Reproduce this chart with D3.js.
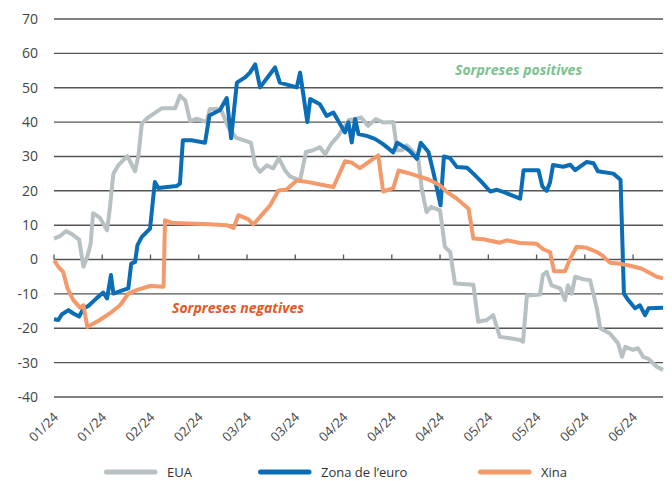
<!DOCTYPE html>
<html lang="ca">
<head>
  <meta charset="UTF-8">
  <title>Sorpreses econòmiques: EUA, Zona de l'euro i Xina</title>
  <script src="https://d3js.org/d3.v7.min.js"></script>
  <style>
    body {
      margin: 0;
      background: #ffffff;
      font-family: "Open Sans", "Noto Sans", sans-serif;
    }
    svg {
      display: block;
    }
  </style>
</head>
<body>
  <svg id="chart" width="672" height="481"></svg>
  <script>
    // x = business-day index since start of January (one tick every 10 days)
    const tickLabels = ["01/24", "01/24", "02/24", "02/24", "03/24", "03/24", "04/24",
                        "04/24", "04/24", "05/24", "05/24", "06/24", "06/24"];
    const yTicks = [-40, -30, -20, -10, 0, 10, 20, 30, 40, 50, 60, 70];

    const eua = [
      [0, 6.1], [1.2, 6.8], [2.5, 8.3], [3.7, 7.4], [5.2, 5.8], [6.1, -2.1], [6.9, 0.8],
      [7.6, 4.6], [8.1, 13.5], [9.5, 12.2], [11.0, 8.5], [11.6, 15.3], [12.3, 25],
      [13.3, 27.4], [15.2, 30.1], [16.8, 25.7], [17.5, 30.3], [18.2, 39.5], [19.2, 41],
      [20.6, 42.4], [22.3, 44], [25.1, 44], [26.1, 47.7], [27.2, 46.3], [28.2, 40.3],
      [29.6, 41], [31.6, 40], [32.3, 43.8], [33.8, 43.8], [34.8, 43], [36.1, 38.5],
      [37.7, 35.5], [40.0, 34.4], [40.8, 34], [41.7, 27.4], [42.7, 25.5], [44.1, 27.4],
      [45.4, 26.5], [46.6, 29.5], [47.9, 25.9], [48.9, 24.2], [51.0, 23], [52.2, 31.3],
      [53.7, 31.8], [55.1, 32.7], [56.2, 30.6], [57.4, 33.6], [58.9, 36], [60.1, 38.5],
      [61.1, 40.6], [62.6, 40.9], [63.6, 41.4], [65.1, 38.9], [66.7, 40.9], [68.2, 39.9],
      [70.3, 40], [71.1, 31.8], [72.1, 31.8], [73.1, 33.2], [74.5, 31.3], [75.5, 29.3],
      [76.2, 20.6], [77.2, 13.8], [78.1, 15.3], [80.0, 14.3], [81.0, 3.7], [82.1, 2.2],
      [83.1, -7], [86.9, -7.3], [87.9, -18.1], [89.7, -17.6], [91.0, -16.2], [92.4, -22.5],
      [94.5, -22.9], [96.6, -23.4], [97.2, -23.9], [98.0, -10.4], [99.0, -10.4],
      [100.7, -10.2], [101.3, -4.5], [102.1, -3.6], [103.1, -7.5], [104.9, -8.4],
      [105.9, -11.8], [106.5, -7.5], [107.3, -9.9], [108.0, -5], [109.6, -5.7],
      [111.1, -6], [112.5, -14.2], [113.2, -20], [115.2, -21.5], [116.9, -24.4],
      [117.7, -28.3], [118.4, -25.4], [120.0, -26.3], [121.0, -25.8], [122.1, -28.3],
      [123.1, -28.8], [124.9, -31.2], [126.2, -32.1]
    ];

    const zonaEuro = [
      [0, -17.4], [0.9, -17.6], [1.6, -16], [3.0, -14.7], [4.0, -15.7], [5.2, -16.6],
      [6.1, -14.2], [7.1, -13.5], [8.8, -11.3], [10.2, -9.6], [11.0, -11.3], [11.8, -4.5],
      [12.3, -9.9], [13.7, -9.2], [15.4, -8.4], [16.0, -1.2], [16.8, -0.7], [17.3, 4.2],
      [18.2, 6.6], [19.9, 9], [20.9, 22.6], [21.6, 20.8], [25.4, 21.4], [26.1, 22.1],
      [26.7, 34.7], [28.5, 34.7], [31.3, 34], [32.2, 41.9], [34.4, 43.5], [35.8, 47],
      [36.7, 35.3], [37.9, 51.5], [39.6, 53], [40.6, 54.4], [41.7, 56.8], [42.7, 50.1],
      [45.8, 55.9], [46.8, 51.5], [50.3, 50.1], [51.0, 54.4], [52.5, 40], [53.1, 46.7],
      [55.1, 45.2], [56.5, 41.8], [57.9, 42.8], [59.3, 39.4], [60.3, 37], [61.0, 39.9],
      [61.7, 34.1], [62.4, 40.9], [63.1, 36.5], [64.8, 36], [66.5, 35.1], [68.2, 33.6],
      [70.3, 31.2], [71.1, 34], [72.7, 32.7], [73.8, 31.5], [75.2, 29.3], [76.0, 34],
      [77.6, 31.3], [78.6, 25.5], [80.1, 15.8], [80.8, 30], [82.1, 29.5], [83.5, 26.9],
      [85.6, 26.7], [86.9, 25], [88.6, 22.6], [90.4, 19.8], [91.8, 20.3], [93.1, 19.7],
      [94.5, 18.9], [96.6, 17.7], [97.3, 26], [100.4, 26], [101.2, 21.3], [102.1, 20],
      [102.8, 22.5], [103.4, 27.5], [105.5, 27], [107.0, 27.6], [108.0, 26], [110.4, 28.4],
      [111.8, 28], [112.7, 25.7], [115.9, 25], [117.4, 23.2], [118.1, -9.9], [119.0, -11.8],
      [120.4, -14.2], [121.4, -13.3], [122.5, -16.2], [123.2, -14.2], [126.2, -14]
    ];

    const xina = [
      [0, -0.2], [0.9, -2.1], [1.9, -3.6], [2.8, -8.4], [4.0, -11.8], [5.4, -14],
      [6.1, -13.3], [6.9, -19.6], [9.5, -17.6], [12.0, -15.2], [13.7, -13.3], [15.4, -9.9],
      [17.1, -8.9], [19.9, -7.7], [22.7, -7.9], [23.0, 11.4], [24.7, 10.6], [32.3, 10.3],
      [35.8, 10], [37.2, 9.2], [38.2, 12.9], [40.3, 11.7], [41.3, 10.2], [42.7, 12.4],
      [44.8, 15.8], [46.5, 20.1], [48.2, 20.4], [50.3, 23], [52.4, 22.6], [57.9, 21.1],
      [60.3, 28.6], [61.7, 28.2], [63.4, 26.6], [67.2, 30.3], [68.2, 19.8], [70.3, 20.8],
      [71.4, 25.9], [73.8, 25], [77.6, 23.3], [80.0, 21.6], [81.4, 19.7], [83.5, 17.7],
      [85.9, 14.8], [86.9, 6.1], [89.0, 5.9], [92.4, 4.9], [93.8, 5.6], [96.6, 4.8],
      [100.0, 4.6], [101.4, 3], [102.8, 2.2], [103.6, -3.4], [105.9, -3.4], [106.9, 0.1],
      [108.3, 3.7], [110.4, 3.4], [112.5, 2.2], [113.5, 1.3], [115.2, -0.9], [117.3, -1.2],
      [119.4, -1.8], [121.7, -2.6], [123.1, -3.6], [124.9, -5], [126.2, -5.5]
    ];

    const series = [
      { name: "EUA", values: eua, color: "#b7c0c3" },
      { name: "Zona de l\u2019euro", values: zonaEuro, color: "#0a6db5" },
      { name: "Xina", values: xina, color: "#f3996a" }
    ];

    const svg = d3.select("#chart");

    const x = d3.scaleLinear().domain([0, 126.2]).range([54, 663]);
    const y = d3.scaleLinear().domain([-40, 70]).range([397, 19]);

    // horizontal gridlines
    svg.append("g")
       .selectAll("line")
       .data(yTicks)
       .join("line")
       .attr("x1", x(0))
       .attr("x2", x(126.2))
       .attr("y1", d => y(d))
       .attr("y2", d => y(d))
       .attr("stroke", "#555")
       .attr("stroke-width", 1.4);

    // y labels
    svg.append("g")
       .selectAll("text")
       .data(yTicks)
       .join("text")
       .attr("x", 38)
       .attr("y", d => y(d))
       .attr("dy", "0.35em")
       .attr("text-anchor", "end")
       .attr("fill", "#444")
       .style("font-size", "14px")
       .text(d => d);

    // x axis ticks on the zero line
    const tickPos = tickLabels.map((d, i) => i * 10);
    svg.append("g")
       .selectAll("line")
       .data(tickPos)
       .join("line")
       .attr("x1", d => x(d))
       .attr("x2", d => x(d))
       .attr("y1", y(0))
       .attr("y2", y(0) - 5)
       .attr("stroke", "#555")
       .attr("stroke-width", 1.3);

    // x labels, rotated
    svg.append("g")
       .selectAll("text")
       .data(tickLabels)
       .join("text")
       .attr("transform", (d, i) => `translate(${x(i * 10) + 5}, 418) rotate(-45)`)
       .attr("text-anchor", "end")
       .attr("fill", "#444")
       .style("font-size", "13px")
       .text(d => d);

    // lines
    const lineGen = d3.line()
                      .x(d => x(d[0]))
                      .y(d => y(d[1]));

    series.forEach(s => {
      svg.append("path")
         .datum(s.values)
         .attr("fill", "none")
         .attr("stroke", s.color)
         .attr("stroke-width", 4)
         .attr("stroke-linejoin", "round")
         .attr("d", lineGen);
    });

    // annotations
    svg.append("text")
       .attr("x", 455)
       .attr("y", 75)
       .attr("fill", "#7cc18e")
       .style("font-size", "14px")
       .style("font-weight", "bold")
       .style("font-style", "italic")
       .text("Sorpreses positives");

    svg.append("text")
       .attr("x", 172)
       .attr("y", 313)
       .attr("fill", "#e8571d")
       .style("font-size", "14px")
       .style("font-weight", "bold")
       .style("font-style", "italic")
       .text("Sorpreses negatives");

    // legend
    const legendX = [104, 258, 478];
    const legend = svg.append("g");
    series.forEach((s, i) => {
      const item = legend.append("g")
                         .attr("transform", `translate(${legendX[i]}, 472)`);
      item.append("line")
          .attr("x1", 2.5)
          .attr("x2", 51)
          .attr("stroke", s.color)
          .attr("stroke-width", 5)
          .attr("stroke-linecap", "round");
      item.append("text")
          .attr("x", 63)
          .attr("dy", "0.35em")
          .attr("fill", "#333")
          .style("font-size", "13px")
          .text(s.name);
    });
  </script>
</body>
</html>
